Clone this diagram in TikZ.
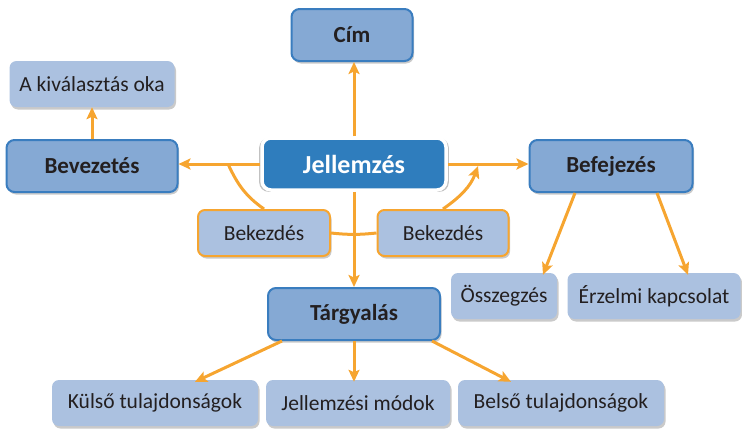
\documentclass[tikz,border=0pt]{standalone}
\usepackage{fontspec}
\setmainfont{Carlito}
\usetikzlibrary{arrows.meta,shadows}
\definecolor{midblue}{HTML}{85A9D4}
\definecolor{edgeblue}{HTML}{3A7DBF}
\definecolor{lightblue}{HTML}{ABC1E0}
\definecolor{darkblue}{HTML}{2F7DBD}
\definecolor{orng}{HTML}{F6A530}
\definecolor{txt}{HTML}{231F20}
\tikzset{
  x=1pt,y=-1pt,
  shd/.style={drop shadow={shadow xshift=1.5pt,shadow yshift=-2.5pt,opacity=0.35,fill=black!60}},
  mainbox/.style={shd,rounded corners=8pt,fill=midblue,draw=edgeblue,line width=2pt,
    font=\bfseries\fontsize{23}{26}\selectfont,text=txt,inner sep=0pt,minimum height=52pt},
  subbox/.style={shd,rounded corners=7pt,fill=lightblue,
    font=\fontsize{21.5}{25}\selectfont,text=txt,inner sep=0pt,minimum height=46pt},
  parabox/.style={subbox,draw=orng,line width=2pt},
  centerbox/.style={rounded corners=9pt,fill=darkblue,draw=white,line width=3.5pt,
    drop shadow={shadow xshift=0pt,shadow yshift=-1pt,opacity=0.35,fill=black!70,shadow scale=1.03},
    font=\bfseries\fontsize{26}{30}\selectfont,text=white,inner sep=0pt,minimum height=52pt},
  link/.style={draw=orng,line width=3pt},
  arr/.style={link,-{Stealth[length=12pt,width=11pt,inset=2.5pt]}},
}
\begin{document}
\begin{tikzpicture}
\useasboundingbox (0,0) rectangle (742,431);
% nodes
\node[centerbox,minimum width=184pt] (jel) at (354,164) {Jellemzés};
\node[mainbox,minimum width=121pt] (cim) at (352,35) {Cím};
\node[mainbox,minimum width=171pt] (bev) at (92,166) {Bevezetés};
\node[mainbox,minimum width=163pt] (bef) at (611,166) {Befejezés};
\node[mainbox,minimum width=172pt] (targ) at (354,314) {Tárgyalás};
\node[subbox,minimum width=165pt] (ok) at (92,84) {A kiválasztás oka};
\node[parabox,minimum width=132pt] (bk1) at (264,233) {Bekezdés};
\node[parabox,minimum width=131pt] (bk2) at (443,233) {Bekezdés};
\node[subbox,minimum width=106pt] (ossz) at (504,296) {Összegzés};
\node[subbox,minimum width=173pt] (erz) at (654,296) {Érzelmi kapcsolat};
\node[subbox,minimum width=206pt] (kul) at (155,403) {Külső tulajdonságok};
\node[subbox,minimum width=184pt] (mod) at (358,403) {Jellemzési módok};
\node[subbox,minimum width=206pt] (bel) at (561,403) {Belső tulajdonságok};
% helper points
\coordinate (c1) at (228,164);
\coordinate (c2) at (478,166);
% connectors
\draw[arr] (jel.north) -- (jel.north |- cim.south);
\draw[arr] (jel.west) -- (jel.west -| bev.east);
\draw[arr] (jel.east) -- (jel.east -| bef.west);
\draw[arr] (bev.north) -- (bev.north |- ok.south);
\draw[arr] (jel.south) -- (jel.south |- targ.north);
\draw[link] (c1) to[out=-65,in=145] (bk1.north);
\draw[arr] (bk2.north) to[out=35,in=-110] (c2);
\draw[link] (bk1.east) to[bend right=6] (bk2.west);
\draw[arr] ([xshift=-36pt]bef.south) -- ([xshift=39pt,yshift=-2pt]ossz.north);
\draw[arr] ([xshift=46pt]bef.south) -- ([xshift=34pt,yshift=-2pt]erz.north);
\draw[arr] ([xshift=-72pt]targ.south) -- ([xshift=40pt,yshift=-2pt]kul.north);
\draw[arr] (targ.south) -- ([yshift=-2pt]targ.south |- mod.north);
\draw[arr] ([xshift=78pt]targ.south) -- ([xshift=-50pt,yshift=-2pt]bel.north);
\end{tikzpicture}
\end{document}
